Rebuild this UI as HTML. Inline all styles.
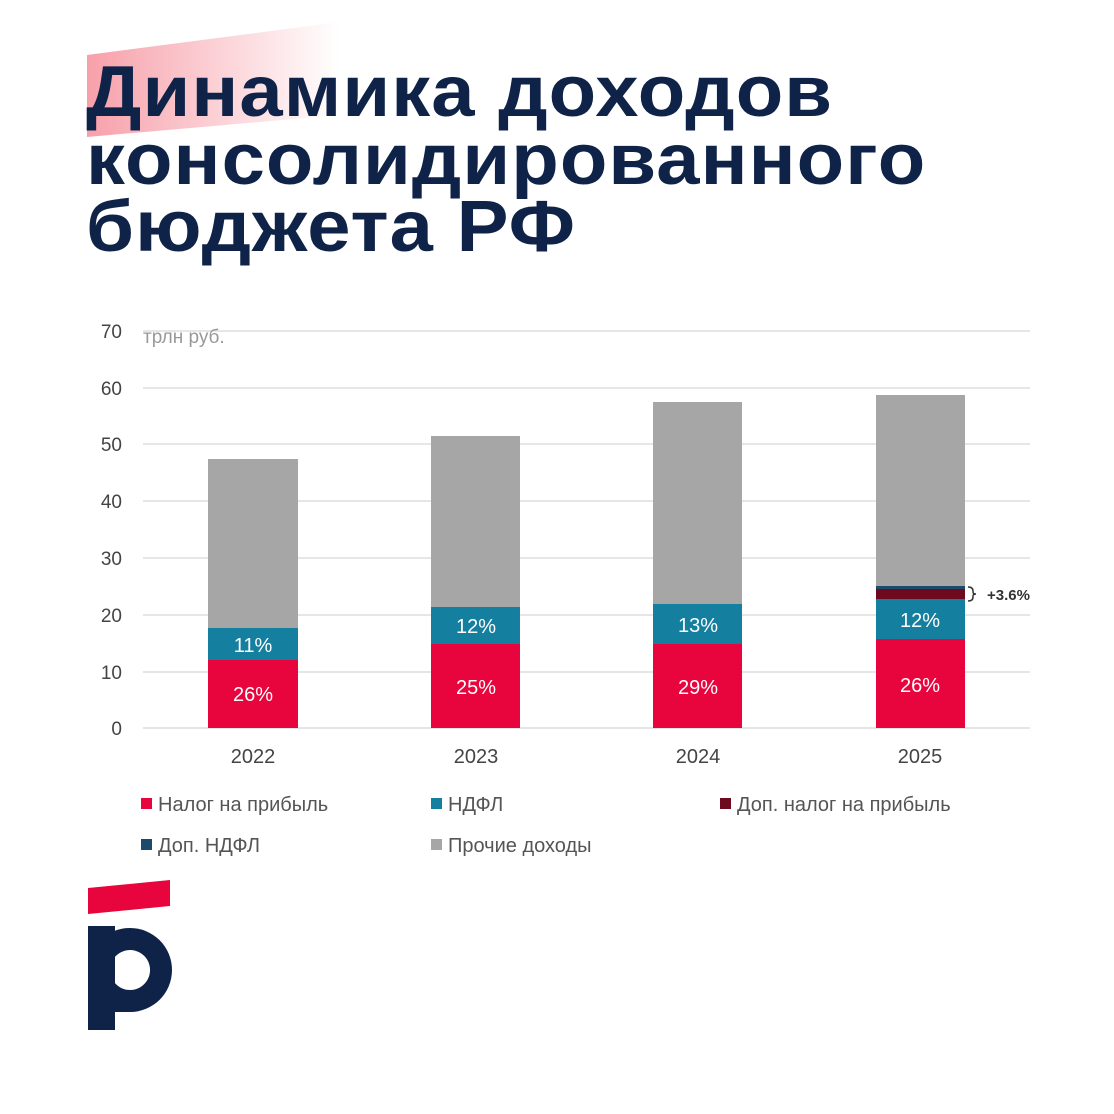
<!DOCTYPE html>
<html><head><meta charset="utf-8"><style>
body{margin:0;width:1114px;height:1114px;background:#fff;overflow:hidden;position:relative;font-family:"Liberation Sans",sans-serif}
.t{position:absolute;left:86px;font-weight:bold;color:#0f2248;font-size:72px;white-space:nowrap;letter-spacing:1px;transform:scaleX(1.08);transform-origin:0 0;line-height:1}
</style></head><body>
<svg width="1114" height="1114" style="position:absolute;left:0;top:0">
<defs><linearGradient id="g" x1="0" x2="1"><stop offset="0" stop-color="#f7a0aa"/><stop offset="1" stop-color="#fff"/></linearGradient></defs>
<polygon points="87,55 340,22 340,115 87,137" fill="url(#g)"/>
<g stroke="#dedede" stroke-width="1.5">
<line x1="143" x2="1030" y1="331" y2="331"/><line x1="143" x2="1030" y1="388" y2="388"/><line x1="143" x2="1030" y1="444" y2="444"/><line x1="143" x2="1030" y1="501" y2="501"/><line x1="143" x2="1030" y1="558" y2="558"/><line x1="143" x2="1030" y1="615" y2="615"/><line x1="143" x2="1030" y1="672" y2="672"/><line x1="143" x2="1030" y1="728" y2="728"/>
</g>
<g font-size="19" fill="#444" text-anchor="end">
<text x="122" y="338">70</text><text x="122" y="395">60</text><text x="122" y="451">50</text><text x="122" y="508">40</text><text x="122" y="565">30</text><text x="122" y="622">20</text><text x="122" y="679">10</text><text x="122" y="735">0</text>
</g>
<text x="143" y="343" font-size="19" fill="#999">трлн руб.</text>
<g fill="#a6a6a6"><rect x="208" y="459" width="90" height="169"/><rect x="431" y="436" width="89" height="171"/><rect x="653" y="402" width="89" height="202"/><rect x="876" y="395" width="89" height="191"/></g>
<g fill="#157fa0"><rect x="208" y="628" width="90" height="32"/><rect x="431" y="607" width="89" height="37"/><rect x="653" y="604" width="89" height="40"/><rect x="876" y="599" width="89" height="40"/></g>
<g fill="#e8043c"><rect x="208" y="660" width="90" height="68"/><rect x="431" y="644" width="89" height="84"/><rect x="653" y="644" width="89" height="84"/><rect x="876" y="639" width="89" height="89"/></g>
<rect x="876" y="586" width="89" height="3" fill="#1c4a68"/><rect x="876" y="589" width="89" height="10" fill="#6d0a1e"/>
<path d="M968,587 q5,0 5,4 v1 q0,2 3,2 q-3,0 -3,2 v1 q0,4 -5,4" fill="none" stroke="#333" stroke-width="1.5"/>
<text x="987" y="600" font-size="15" font-weight="bold" fill="#333">+3.6%</text>
<g fill="#fff" font-size="20" text-anchor="middle">
<text x="253" y="652">11%</text><text x="476" y="633">12%</text><text x="698" y="632">13%</text><text x="920" y="627">12%</text>
<text x="253" y="701">26%</text><text x="476" y="694">25%</text><text x="698" y="694">29%</text><text x="920" y="692">26%</text>
</g>
<g font-size="20" fill="#444" text-anchor="middle"><text x="253" y="763">2022</text><text x="476" y="763">2023</text><text x="698" y="763">2024</text><text x="920" y="763">2025</text></g>
<g font-size="20" fill="#555">
<rect x="141" y="798" width="11" height="11" fill="#e8043c"/><text x="158" y="811">Налог на прибыль</text>
<rect x="431" y="798" width="11" height="11" fill="#157fa0"/><text x="448" y="811">НДФЛ</text>
<rect x="720" y="798" width="11" height="11" fill="#6d0a1e"/><text x="737" y="811">Доп. налог на прибыль</text>
<rect x="141" y="839" width="11" height="11" fill="#1c4a68"/><text x="158" y="852">Доп. НДФЛ</text>
<rect x="431" y="839" width="11" height="11" fill="#a6a6a6"/><text x="448" y="852">Прочие доходы</text>
</g>
<polygon points="88,888 170,880 170,906 88,914" fill="#e8043c"/>
<rect x="88" y="926" width="27" height="104" fill="#0f2248"/>
<path d="M88,970 a42,42 0 1,1 42,42 h-42z M130,950 a20,20 0 1,0 0.1,0z" fill="#0f2248" fill-rule="evenodd"/>
</svg>
<div class="t" style="top:56px">Динамика доходов</div>
<div class="t" style="top:124px">консолидированного</div>
<div class="t" style="top:191px">бюджета РФ</div>
</body></html>
